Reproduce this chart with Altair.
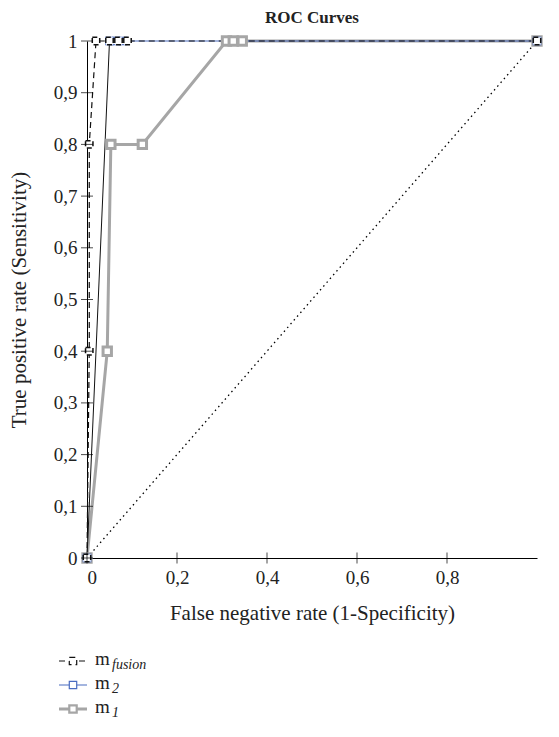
import altair as alt
import pandas as pd

# ---- data ----
fusion_fpr = [0.0, 0.005, 0.005, 0.02, 0.05, 0.07, 0.09, 1.0]
fusion_tpr = [0.0, 0.4, 0.8, 1.0, 1.0, 1.0, 1.0, 1.0]

m2_fpr = [0.0, 0.05, 0.065, 0.08, 1.0]
m2_tpr = [0.0, 1.0, 1.0, 1.0, 1.0]

m1_fpr = [0.0, 0.045, 0.053, 0.123, 0.31, 0.325, 0.345, 1.0]
m1_tpr = [0.0, 0.4, 0.8, 0.8, 1.0, 1.0, 1.0, 1.0]

diag_x = [0.0, 1.0]
diag_y = [0.0, 1.0]

y_ticks = [0, 0.1, 0.2, 0.3, 0.4, 0.5, 0.6, 0.7, 0.8, 0.9, 1.0]
x_ticks = [0, 0.2, 0.4, 0.6, 0.8]

FONT = "Liberation Serif"
GRAY = "#a6a6a6"
BLUE = "#4a6cc0"
TXT = "#222222"

X = alt.X("x:Q", scale=alt.Scale(domain=[0, 1], nice=False),
          axis=alt.Axis(values=x_ticks, ticks=False, grid=False, domainColor="black",
                        labelExpr="replace(format(datum.value, '.1~f'), '.', ',')",
                        labelFont=FONT, labelFontSize=19, labelColor=TXT, labelPadding=10,
                        title="False negative rate (1-Specificity)", titleFont=FONT,
                        titleFontSize=21, titleFontWeight="normal", titleColor=TXT,
                        titlePadding=15))
Y = alt.Y("y:Q", scale=alt.Scale(domain=[0, 1], nice=False),
          axis=alt.Axis(values=y_ticks, ticks=False, grid=False, domainColor="black",
                        labelExpr="replace(format(datum.value, '.1~f'), '.', ',')",
                        labelFont=FONT, labelFontSize=19, labelColor=TXT, labelPadding=10,
                        title="True positive rate (Sensitivity)", titleFont=FONT,
                        titleFontSize=21, titleFontWeight="normal", titleColor=TXT,
                        titlePadding=24))


def df(xs, ys):
    return pd.DataFrame({"x": xs, "y": ys, "o": list(range(len(xs)))})


diag = alt.Chart(df(diag_x, diag_y)).mark_line(
    color="black", strokeWidth=1.3, strokeDash=[1.5, 3.5]
).encode(x=X, y=Y, order="o:Q")

# m_1 gray
m1 = df(m1_fpr, m1_tpr)
m1_line = alt.Chart(m1).mark_line(color=GRAY, strokeWidth=3).encode(x=X, y=Y, order="o:Q")
m1_pts = alt.Chart(m1).mark_point(shape="square", size=70, filled=True, fill="white",
                                  stroke=GRAY, strokeWidth=3, opacity=1).encode(x=X, y=Y)

# m_2 blue (rising segment rendered dark)
m2 = df(m2_fpr, m2_tpr)
m2_rise = alt.Chart(m2.iloc[:2]).mark_line(color="#111", strokeWidth=1).encode(x=X, y=Y, order="o:Q")
m2_flat = alt.Chart(m2.iloc[1:]).mark_line(color=BLUE, strokeWidth=1.2).encode(x=X, y=Y, order="o:Q")
m2_pts = alt.Chart(m2).mark_point(shape="square", size=55, filled=True, fill="white",
                                  stroke=BLUE, strokeWidth=1.2, opacity=1).encode(x=X, y=Y)

# m_fusion black dashed
fu = df(fusion_fpr, fusion_tpr)
fu_line = alt.Chart(fu).mark_line(color="#111", strokeWidth=1.2, strokeDash=[6, 4]).encode(
    x=X, y=Y, order="o:Q")
fu_pts = alt.Chart(fu).mark_point(shape="square", size=55, filled=True, fill="white",
                                  stroke="#111", strokeWidth=1.5, strokeDash=[5, 3],
                                  opacity=1).encode(x=X, y=Y)

# crossing tick marks on the axes
yt = alt.Chart(pd.DataFrame({"y": y_ticks})).mark_tick(
    orient="horizontal", size=12, thickness=1, color="black"
).encode(x=alt.datum(0), y=Y)
xt = alt.Chart(pd.DataFrame({"x": x_ticks})).mark_tick(
    orient="vertical", size=11, thickness=1, color="black"
).encode(x=X, y=alt.datum(0))

# custom legend (subscript labels)
leg_names = ["fusion", "2", "1"]
leg_colors = ["#111", BLUE, GRAY]
leg_widths = [1.2, 1.2, 3]
leg_dash = [[6, 4], [1, 0], [1, 0]]
leg_rows = [620, 644, 668]

one = pd.DataFrame({"a": [0]})
legend_layers = []
for name, col, w, dash, yy in zip(leg_names, leg_colors, leg_widths, leg_dash, leg_rows):
    legend_layers.append(alt.Chart(one).mark_rule(color=col, strokeWidth=w, strokeDash=dash).encode(
        x=alt.value(-28), x2=alt.value(0), y=alt.value(yy)))
    legend_layers.append(alt.Chart(one).mark_point(shape="square", size=55, filled=True,
                                                   fill="white", stroke=col, strokeWidth=min(w, 2.2),
                                                   strokeDash=dash, opacity=1).encode(
        x=alt.value(-14), y=alt.value(yy)))
    legend_layers.append(alt.Chart(one).mark_text(text="m", font=FONT, fontSize=19, align="left",
                                                  baseline="middle", color=TXT).encode(
        x=alt.value(8), y=alt.value(yy - 2)))
    legend_layers.append(alt.Chart(one).mark_text(text=name, font=FONT, fontSize=14,
                                                  fontStyle="italic", align="left",
                                                  baseline="middle", color=TXT).encode(
        x=alt.value(25), y=alt.value(yy + 4)))

chart = alt.layer(
    diag, m1_line, m2_rise, m2_flat, fu_line, m1_pts, m2_pts, fu_pts, yt, xt, *legend_layers
).properties(
    width=450, height=517,
    padding={"left": 0, "top": 0, "right": 0, "bottom": 0},
    title=alt.TitleParams("ROC Curves", font=FONT, fontSize=17, fontWeight="bold",
                          anchor="middle", color=TXT, offset=4),
).configure_view(strokeWidth=0)

chart.save("out.html", embed_options={"renderer": "svg", "actions": False})
